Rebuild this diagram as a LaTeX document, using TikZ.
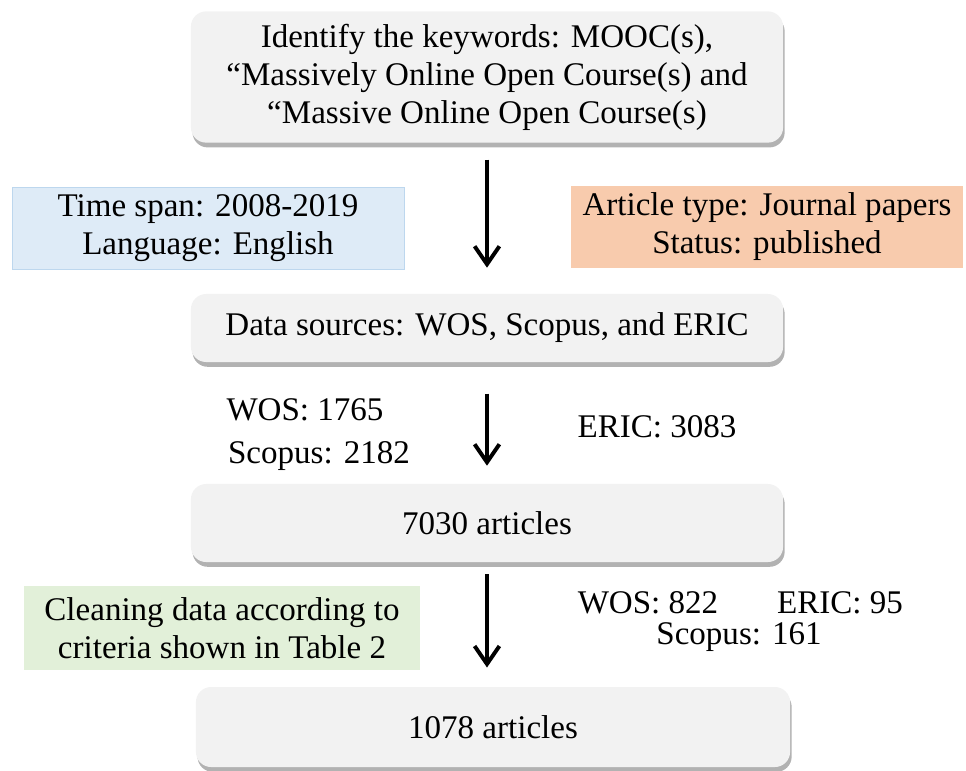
\documentclass[tikz,border=0pt]{standalone}
\usepackage{fontspec}
\setmainfont{Liberation Serif}
\usepackage{tikz}
\usetikzlibrary{arrows.meta,positioning,shadows,calc}
\definecolor{stepGray}{RGB}{242,242,242}
\definecolor{spanBlue}{RGB}{222,235,247}
\definecolor{spanEdge}{RGB}{189,215,238}
\definecolor{typeOrange}{RGB}{248,203,173}
\definecolor{cleanGreen}{RGB}{226,240,217}

\begin{document}
\begin{tikzpicture}[
  x=0.025cm, y=-0.025cm,
  every node/.style={font=\fontsize{23.5pt}{27pt}\selectfont, align=center, inner sep=0pt},
  stepbox/.style={fill=stepGray, rounded corners=0.38cm, minimum width=14.8cm,
                  drop shadow={shadow xshift=0.04cm, shadow yshift=-0.12cm,
                               fill=black!55, opacity=0.55}},
  infobox/.style={minimum width=9.8cm, minimum height=2.05cm},
  flow/.style={-{Straight Barb[length=0.45cm, width=0.62cm]}, line width=2.8pt, line cap=butt}
]
  \useasboundingbox (0,0) rectangle (966,770);

  % main steps
  \node[stepbox, minimum height=3.28cm] (key) at (487,77)
    {Identify the keywords: MOOC(s),\\``Massively Online Open Course(s) and\\``Massive Online Open Course(s)};
  \node[stepbox, minimum height=1.7cm]  (src)   at (487,328) {Data sources: WOS, Scopus, and ERIC};
  \node[stepbox, minimum height=1.95cm] (all)   at (487,523) {7030 articles};
  \node[stepbox, minimum height=2.0cm, minimum width=14.85cm] (final) at (493,727) {1078 articles};

  % side notes
  \node[infobox, fill=spanBlue, draw=spanEdge, line width=0.6pt] (span) at (208,228)
    {Time span: 2008-2019\\Language: English};
  \node[infobox, fill=typeOrange] (type) at (767,227)
    {Article type: Journal papers\\Status: published};
  \node[infobox, fill=cleanGreen, minimum width=9.88cm, minimum height=2.1cm] (clean) at (222,628)
    {Cleaning data according to\\criteria shown in Table 2};

  % counts per database
  \node (wos1)   at (305,410) {WOS: 1765};
  \node (sco1)   at (319,456) {Scopus: 2182};
  \node (eric1)  at (657,427) {ERIC: 3083};
  \node (wos2)   at (648,603) {WOS: 822};
  \node (eric2)  at (840,603) {ERIC: 95};
  \node (sco2)   at (739,637) {Scopus: 161};

  \draw[flow, shorten <=0.42cm, shorten >=0.65cm] (key) -- (src);
  \draw[flow, shorten <=0.78cm, shorten >=0.45cm] (src) -- (all);
  \draw[flow, shorten <=0.3cm, shorten >=0.48cm] (all.south) -- (all.south |- final.north);
\end{tikzpicture}
\end{document}
